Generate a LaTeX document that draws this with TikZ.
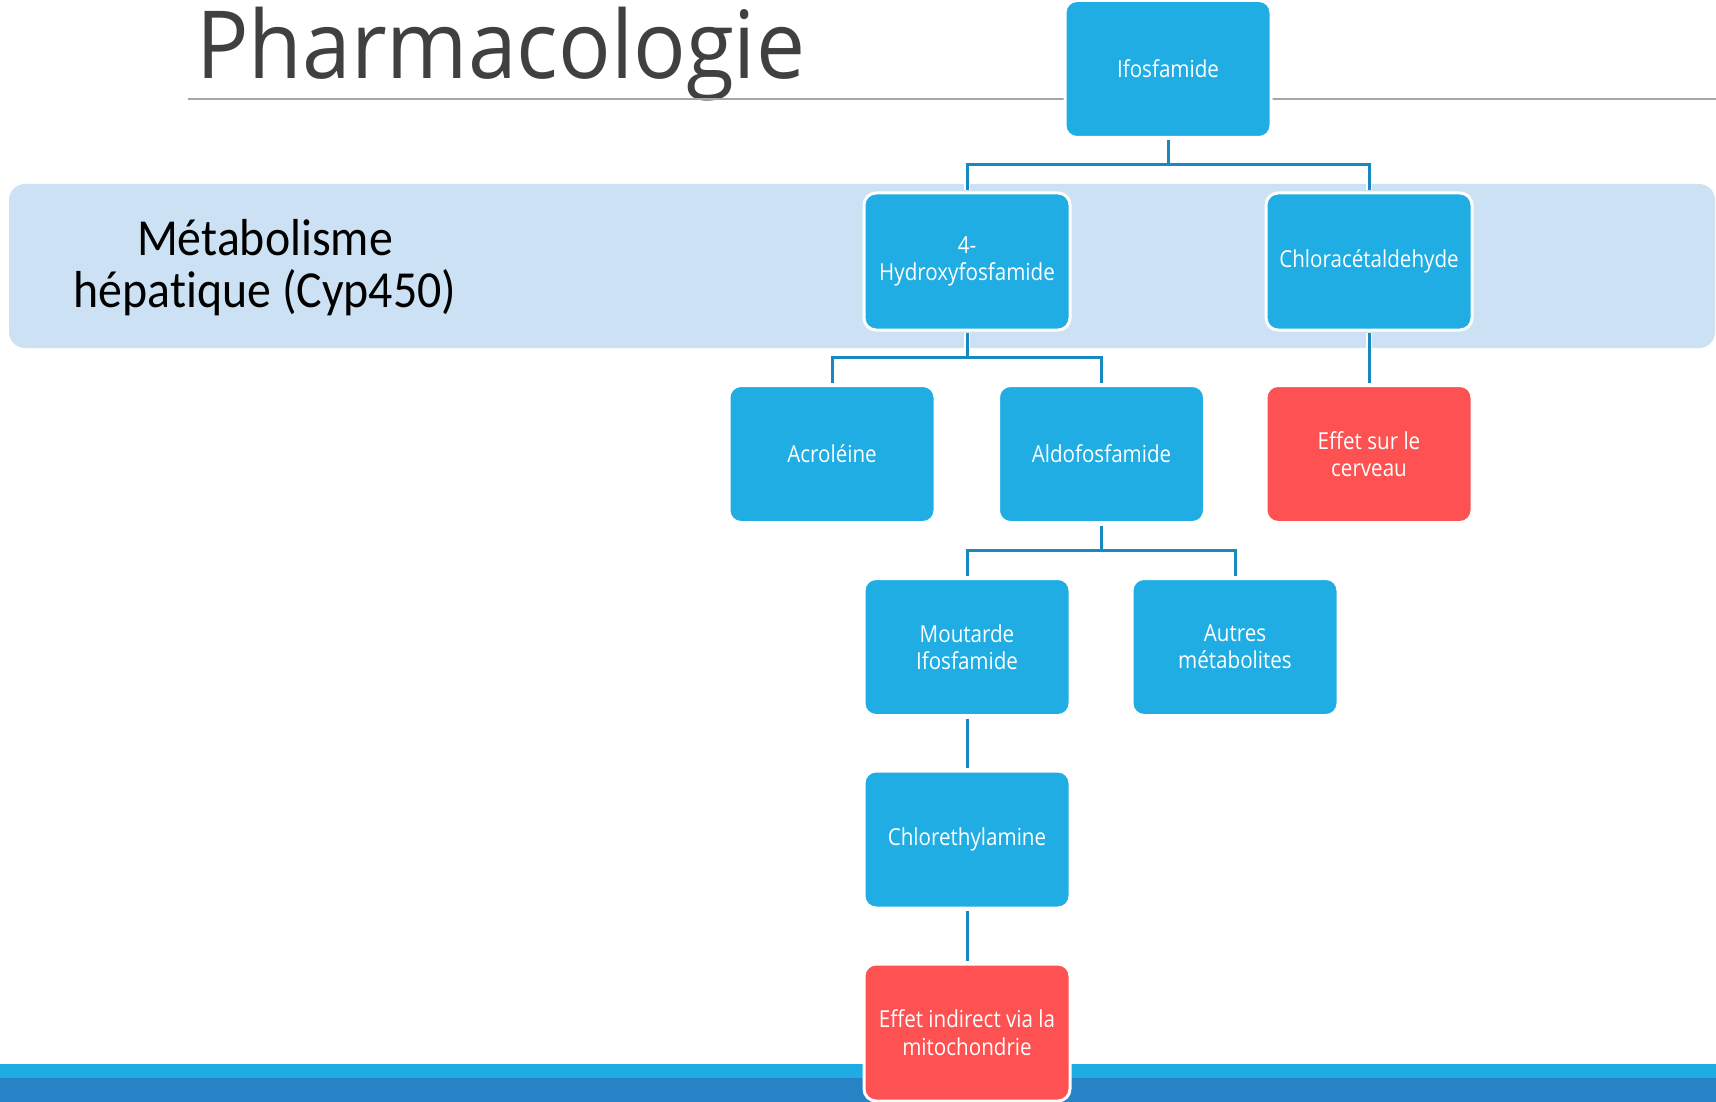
\documentclass[tikz,border=0pt]{standalone}
\usepackage{fontspec}
\setmainfont{Open Sans}
\newfontfamily\boxfont[FakeStretch=0.88]{Open Sans}
\newfontfamily\titlefont[FakeStretch=0.93]{Open Sans}
\newfontfamily\bandfont[FakeStretch=0.92, Ligatures=NoCommon]{Carlito}
\definecolor{boxblue}{HTML}{1FADE4}
\definecolor{boxred}{HTML}{FE5151}
\definecolor{connblue}{HTML}{1789BF}
\definecolor{bandblue}{HTML}{CCE2F4}
\definecolor{barcyan}{HTML}{1FACE3}
\definecolor{bardark}{HTML}{2882C6}
\definecolor{rulegray}{HTML}{A6A6A6}
\definecolor{titlegray}{HTML}{404040}
\tikzset{
  chartbox/.style={rectangle, rounded corners=12pt, minimum width=206pt, minimum height=137pt,
    fill=boxblue, draw=white, line width=3pt, text=white, align=center, inner sep=2pt,
    font=\boxfont\fontsize{23.4}{27.4}\selectfont},
  redbox/.style={chartbox, fill=boxred},
  casing/.style={draw=white, line width=6.5pt},
  connector/.style={draw=connblue, line width=3pt}
}
\begin{document}
\begin{tikzpicture}[x=1pt,y=-1pt]
\useasboundingbox (0,0) rectangle (1716,1102);
\fill[white] (0,0) rectangle (1716,1102);
% title and rule
\node[font=\titlefont\fontsize{94}{94}\selectfont, text=titlegray, anchor=base west, inner sep=0pt] (title) at (196,79) {Pharmacologie};
\draw[rulegray, line width=2.3pt] (188,99) -- (1716,99);
% band
\fill[bandblue, rounded corners=16pt] (9,184) rectangle (1715,348);
\node[font=\bandfont\fontsize{52}{52}\selectfont, align=center, text=black] (bandlabel) at (265,268) {Métabolisme\\hépatique (Cyp450)};
% bottom bars
\fill[barcyan] (0,1064) rectangle (1716,1078);
\fill[bardark] (0,1078) rectangle (1716,1102);
% boxes
\node[chartbox] (ifo) at (1168,69) {Ifosfamide};
\node[chartbox] (hydroxy) at (967,261.5) {4-\\Hydroxyfosfamide};
\node[chartbox] (chlorac) at (1369,261.5) {Chloracétaldehyde};
\node[chartbox] (acro) at (832,454) {Acroléine};
\node[chartbox] (aldo) at (1101.5,454) {Aldofosfamide};
\node[redbox] (cerveau) at (1369,454) {Effet sur le\\cerveau};
\node[chartbox] (moutarde) at (967,647) {Moutarde\\Ifosfamide};
\node[chartbox] (autres) at (1235,647) {Autres\\métabolites};
\node[chartbox] (chloreth) at (967,839.5) {Chlorethylamine};
\node[redbox] (effind) at (967,1032.5) {Effet indirect via la\\mitochondrie};
% connectors
\foreach \a/\b in {ifo/hydroxy, ifo/chlorac, hydroxy/acro, hydroxy/aldo, aldo/moutarde, aldo/autres, chlorac/cerveau, moutarde/chloreth, chloreth/effind}
  \draw[casing] ([yshift=-1.5pt]\a.south) -- ++(0,24.5) -| ([yshift=1.5pt]\b.north);
\foreach \a/\b in {ifo/hydroxy, ifo/chlorac, hydroxy/acro, hydroxy/aldo, aldo/moutarde, aldo/autres, chlorac/cerveau, moutarde/chloreth, chloreth/effind}
  \draw[connector] ([yshift=-1.5pt]\a.south) -- ++(0,24.5) -| ([yshift=1.5pt]\b.north);
\end{tikzpicture}
\end{document}
